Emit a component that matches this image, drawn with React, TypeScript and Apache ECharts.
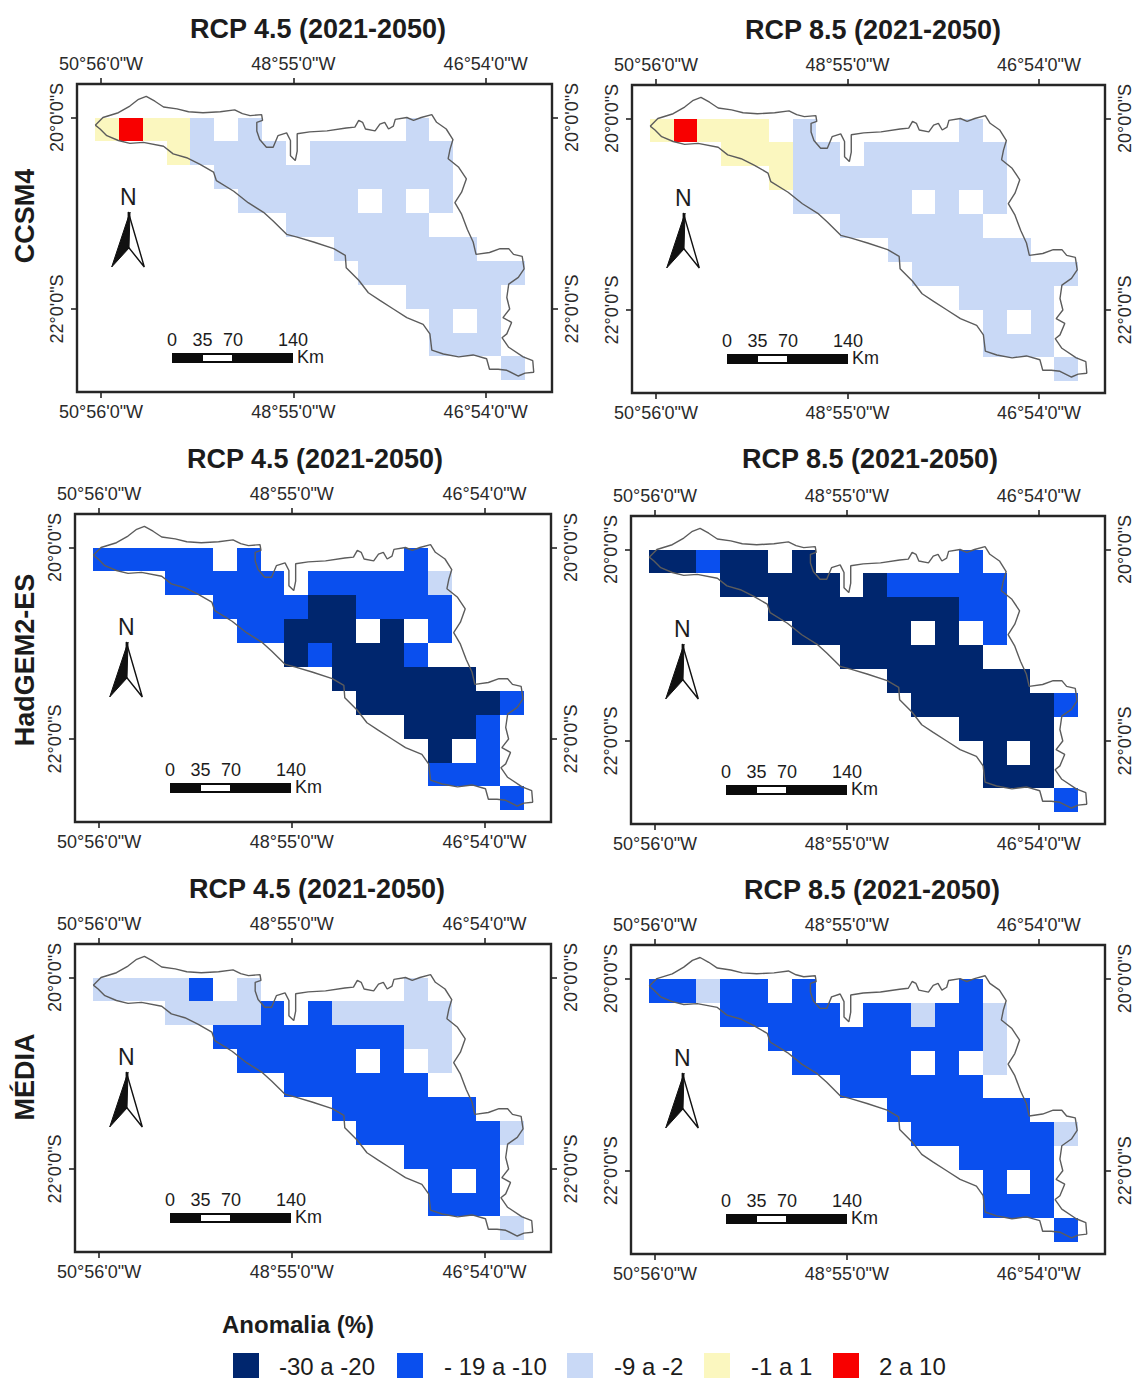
import React, { useEffect, useRef } from "react";
import * as echarts from "echarts";

const FONT = "'Liberation Sans', Arial, sans-serif";

// Legend classes
const classCodes = ["a", "b", "c", "d", "e"];
const classLabels = ["-30 a -20", "- 19 a -10", "-9 a -2", "-1 a 1", "2 a 10"];
const classColors = ["#00266e", "#0a4fee", "#c9d9f6", "#fbf7bf", "#f80000"];

// Titles and row names
const rcpTitles = ["RCP 4.5 (2021-2050)", "RCP 8.5 (2021-2050)"];
const modelNames = ["CCSM4", "HadGEM2-ES", "MÉDIA"];

// Tick values (degrees) and their labels
const lonTicks = [-51, -49, -47];
const lonLabels = ["50°56'0\"W", "48°55'0\"W", "46°54'0\"W"];
const latTicks = [-22, -20];
const latLabels = ["22°0'0\"S", "20°0'0\"S"];

// Raster: 18 columns x 11 rows of classes, one string per row ("." = no data)
const ccsmRcp45 = [
  "deddc.c......c....",
  "...dcccc.cccccc...",
  ".....cccccccccc...",
  "......ccccc.c.c...",
  "........cccccc....",
  "..........cccccc..",
  "...........ccccccc",
  ".............cccc.",
  "..............c.c.",
  "..............ccc.",
  ".................c",
];
const ccsmRcp85 = [
  "deddd.c......c....",
  "...dddcc.cccccc...",
  ".....dccccccccc...",
  "......ccccc.c.c...",
  "........cccccc....",
  "..........cccccc..",
  "...........ccccccc",
  ".............cccc.",
  "..............c.c.",
  "..............ccc.",
  ".................c",
];
const hadRcp45 = [
  "bbbbb.b......b....",
  "...bbbbb.bbbbbc...",
  ".....bbbbaabbbb...",
  "......bbaaa.a.b...",
  "........abaaab....",
  "..........aaaaaa..",
  "...........aaaaaab",
  ".............aaab.",
  "..............a.b.",
  "..............bbb.",
  ".................b",
];
const hadRcp85 = [
  "aabaa.a......b....",
  "...aaaaa.abbbbb...",
  ".....aaaaaaaabb...",
  "......aaaaa.a.b...",
  "........aaaaaa....",
  "..........aaaaaa..",
  "...........aaaaaab",
  ".............aaaa.",
  "..............a.a.",
  "..............aaa.",
  ".................b",
];
const mediaRcp45 = [
  "ccccb.c......c....",
  "...ccccb.bccccc...",
  ".....bbbbbbbbcc...",
  "......bbbbb.b.c...",
  "........bbbbbb....",
  "..........bbbbbb..",
  "...........bbbbbbc",
  ".............bbbb.",
  "..............b.b.",
  "..............bbb.",
  ".................c",
];
const mediaRcp85 = [
  "bbcbb.b......b....",
  "...bbbbb.bbcbbc...",
  ".....bbbbbbbbbc...",
  "......bbbbb.b.c...",
  "........bbbbbb....",
  "..........bbbbbb..",
  "...........bbbbbbc",
  ".............bbbb.",
  "..............b.b.",
  "..............bbb.",
  ".................b",
];
const rasters = [ccsmRcp45, ccsmRcp85, hadRcp45, hadRcp85, mediaRcp45, mediaRcp85];

// Raster georeference (degrees)
const rasterLon0 = -51.065;
const rasterLat0 = -20;
const cellLon = 0.2486;
const cellLat = 0.2496;

// Basin boundary (lon, lat)
const boundary: number[][] = [
  [-51.06, -20.08], [-50.98, -20], [-50.82, -19.95], [-50.7, -19.88], [-50.61, -19.81], [-50.53, -19.78],
  [-50.44, -19.83], [-50.35, -19.89], [-50.21, -19.91], [-50.09, -19.94], [-49.94, -19.95], [-49.76, -19.94],
  [-49.61, -19.92], [-49.53, -19.96], [-49.45, -19.98], [-49.33, -19.97], [-49.32, -20.03], [-49.38, -20.05],
  [-49.38, -20.14], [-49.35, -20.23], [-49.28, -20.31], [-49.21, -20.31], [-49.16, -20.19], [-49.07, -20.16],
  [-49.03, -20.24], [-49.03, -20.4], [-48.98, -20.45], [-48.96, -20.35], [-48.96, -20.17], [-48.83, -20.15],
  [-48.65, -20.14], [-48.45, -20.11], [-48.36, -20.1], [-48.32, -20.03], [-48.28, -20.05], [-48.25, -20.12],
  [-48.15, -20.14], [-48.1, -20.07], [-48.05, -20.05], [-48.01, -20.12], [-47.96, -20.09], [-47.94, -20.02],
  [-47.82, -20], [-47.75, -20.03], [-47.67, -20], [-47.56, -19.97], [-47.51, -20.05], [-47.41, -20.12],
  [-47.34, -20.23], [-47.37, -20.33], [-47.39, -20.43], [-47.28, -20.52], [-47.2, -20.64], [-47.25, -20.78],
  [-47.32, -20.89], [-47.25, -21.01], [-47.19, -21.17], [-47.13, -21.3], [-47.1, -21.43], [-46.96, -21.41],
  [-46.85, -21.37], [-46.76, -21.37], [-46.71, -21.43], [-46.62, -21.45], [-46.6, -21.58], [-46.66, -21.67],
  [-46.76, -21.74], [-46.78, -21.88], [-46.75, -22], [-46.82, -22.09], [-46.73, -22.14], [-46.78, -22.26],
  [-46.83, -22.3], [-46.76, -22.4], [-46.61, -22.5], [-46.51, -22.54], [-46.5, -22.66], [-46.59, -22.67],
  [-46.66, -22.7], [-46.78, -22.64], [-46.87, -22.63], [-46.96, -22.63], [-46.99, -22.52], [-47.13, -22.48],
  [-47.28, -22.5], [-47.44, -22.47], [-47.56, -22.43], [-47.58, -22.26], [-47.65, -22.16], [-47.82, -22.09],
  [-47.96, -22], [-48.1, -21.91], [-48.22, -21.83], [-48.32, -21.7], [-48.45, -21.57], [-48.46, -21.44],
  [-48.58, -21.37], [-48.79, -21.3], [-48.96, -21.25], [-49.07, -21.22], [-49.21, -21.08], [-49.31, -20.99],
  [-49.47, -20.89], [-49.62, -20.77], [-49.8, -20.66], [-49.83, -20.57], [-49.97, -20.49], [-50.11, -20.42],
  [-50.25, -20.38], [-50.35, -20.3], [-50.56, -20.26], [-50.7, -20.27], [-50.82, -20.24], [-50.94, -20.19],
  [-51.01, -20.12], [-51.06, -20.08],
];

// Scale bar labels
const scaleLabels = ["0", "35", "70", "140"];
const legendTitle = "Anomalia (%)";

export default function App() {
  const ref = useRef<HTMLDivElement>(null);
  useEffect(() => {
    if (!ref.current) return;
    const chart = echarts.init(ref.current, null, { renderer: "svg" });

    const panels = [
      { l: 77, t: 84, w: 475, h: 308, tx: 318, ty: 29 },
      { l: 632, t: 85, w: 475, h: 308, tx: 873, ty: 30 },
      { l: 75, t: 514, w: 476, h: 308, tx: 315, ty: 459 },
      { l: 631, t: 516, w: 475, h: 308, tx: 870, ty: 459 },
      { l: 75, t: 944, w: 476, h: 308, tx: 317, ty: 889 },
      { l: 631, t: 945, w: 475, h: 309, tx: 872, ty: 890 },
    ];
    const labelStyle = { color: "#2a2a2a", fontFamily: FONT, fontSize: 18 };
    const grid: any[] = [];
    const xAxis: any[] = [];
    const yAxis: any[] = [];
    const series: any[] = [];
    const graphic: any[] = [];

    const txt = (x: number, y: number, text: string, fontSize: number, extra: any = {}, align = "center") => ({
      type: "text",
      x,
      y,
      silent: true,
      z: 12,
      ...extra,
      style: {
        text,
        fontSize,
        fontFamily: FONT,
        fontWeight: extra.bold ? "bold" : "normal",
        fill: extra.fill || "#1c1c1c",
        align,
        verticalAlign: "middle",
      },
    });

    panels.forEach((p, i) => {
      grid.push({
        left: p.l,
        top: p.t,
        width: p.w,
        height: p.h,
        show: true,
        borderColor: "#262626",
        borderWidth: 2.4,
        backgroundColor: "#fff",
      });
      ["bottom", "top"].forEach((position) =>
        xAxis.push({
          type: "value",
          gridIndex: i,
          position,
          min: -51.25,
          max: -51.25 + 4.94,
          splitLine: { show: false },
          axisLine: { show: false },
          axisTick: { show: true, customValues: lonTicks, length: 6, lineStyle: { color: "#262626", width: 1.6 } },
          axisLabel: {
            ...labelStyle,
            margin: 11,
            customValues: lonTicks,
            formatter: (v: number) => lonLabels[lonTicks.indexOf(v)] ?? "",
          },
        })
      );
      ["left", "right"].forEach((position) =>
        yAxis.push({
          type: "value",
          gridIndex: i,
          position,
          min: -19.65 - 3.217,
          max: -19.65,
          splitLine: { show: false },
          axisLine: { show: false },
          axisTick: { show: true, customValues: latTicks, length: 6, lineStyle: { color: "#262626", width: 1.6 } },
          axisLabel: {
            ...labelStyle,
            rotate: 90,
            margin: 11,
            customValues: latTicks,
            formatter: (v: number) => latLabels[latTicks.indexOf(v)] ?? "",
          },
        })
      );
      const cells: any[] = [];
      rasters[i].forEach((row, r) => {
        row.split("").forEach((code, c) => {
          const k = classCodes.indexOf(code);
          if (k >= 0) cells.push([rasterLon0 + c * cellLon, rasterLat0 - r * cellLat, k]);
        });
      });
      series.push({
        type: "custom",
        xAxisIndex: i * 2,
        yAxisIndex: i * 2,
        silent: true,
        z: 2,
        data: cells,
        encode: { x: 0, y: 1 },
        renderItem: (_: any, api: any) => {
          const a = api.coord([api.value(0), api.value(1)]);
          const b = api.coord([api.value(0) + cellLon, api.value(1) - cellLat]);
          const x0 = Math.round(a[0]);
          const y0 = Math.round(a[1]);
          return {
            type: "rect",
            shape: { x: x0, y: y0, width: Math.round(b[0]) - x0, height: Math.round(b[1]) - y0 },
            style: { fill: classColors[api.value(2)] },
          };
        },
      });
      series.push({
        type: "line",
        xAxisIndex: i * 2,
        yAxisIndex: i * 2,
        silent: true,
        z: 3,
        showSymbol: false,
        symbol: "none",
        data: boundary,
        lineStyle: { color: "#5c5c5c", width: 1.4 },
      });

      // Title
      graphic.push(txt(p.tx, p.ty, rcpTitles[i % 2], 27, { bold: true }));
      // North arrow
      const ox = p.l;
      const oy = p.t;
      graphic.push(txt(ox + 51.3, oy + 113, "N", 23));
      graphic.push({
        type: "polygon",
        silent: true,
        z: 10,
        shape: { points: [[ox + 51.3, oy + 128], [ox + 67.3, oy + 183], [ox + 51.3, oy + 163]] },
        style: { fill: "#fff", stroke: "#111", lineWidth: 1.4 },
      });
      graphic.push({
        type: "polygon",
        silent: true,
        z: 10,
        shape: { points: [[ox + 53, oy + 128], [ox + 34.7, oy + 183], [ox + 52, oy + 164]] },
        style: { fill: "#111", stroke: "#111", lineWidth: 1 },
      });
      // Scale bar
      const scaleX = [95, 125.5, 156, 216];
      scaleLabels.forEach((s, k) => graphic.push(txt(ox + scaleX[k], oy + 256, s, 18)));
      graphic.push({ type: "rect", silent: true, z: 10, shape: { x: ox + 95, y: oy + 269, width: 121, height: 10 }, style: { fill: "#0b0b0b" } });
      graphic.push({ type: "rect", silent: true, z: 11, shape: { x: ox + 126, y: oy + 271, width: 29, height: 6 }, style: { fill: "#fff" } });
      graphic.push(txt(ox + 220, oy + 273, "Km", 18, {}, "left"));
    });

    // Row labels
    [216, 660, 1077].forEach((y, i) =>
      graphic.push(txt(25, y, modelNames[i], 27, { bold: true, rotation: Math.PI / 2 }))
    );

    // Legend
    graphic.push(txt(222, 1324, legendTitle, 24, { bold: true }, "left"));
    const swatchX = [233, 397, 567, 704, 833];
    const legendTextX = [279, 444, 614, 751, 879];
    classLabels.forEach((lab, k) => {
      graphic.push({
        type: "rect",
        silent: true,
        shape: { x: swatchX[k], y: 1353, width: 26, height: 25 },
        style: { fill: classColors[k] },
      });
      graphic.push(txt(legendTextX[k], 1366, lab, 24, {}, "left"));
    });

    chart.setOption({
      animation: false,
      backgroundColor: "#fff",
      grid,
      xAxis,
      yAxis,
      series,
      graphic: { elements: graphic },
    });
    return () => chart.dispose();
  }, []);
  return (
    <div
      ref={ref}
      style={{ position: "absolute", left: 0, top: 0, width: 1134, height: 1379, background: "#fff" }}
    />
  );
}
